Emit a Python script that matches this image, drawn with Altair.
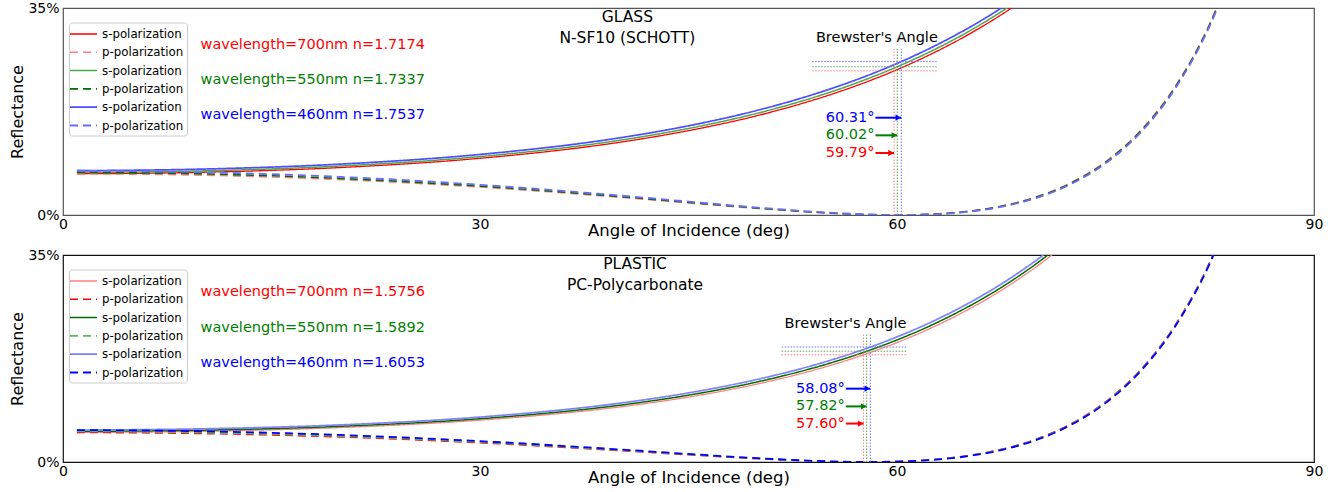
import altair as alt
import pandas as pd

FONT = "DejaVu Sans"

# ---------------- data ----------------
ANGLES = [1, 10, 20, 30, 40, 45, 50, 55, 57.5, 60, 62.5, 65, 67.5, 70,
          72.5, 75, 77.5, 80, 82.5, 85]

# GLASS  N-SF10 (SCHOTT)   reflectance in %
GLASS_S700 = [6.97, 7.22, 8.03, 9.59, 12.28, 14.26, 16.83, 20.19, 22.23, 24.57, 27.26, 30.33, 33.86, 37.90]
GLASS_S550 = [7.20, 7.46, 8.29, 9.88, 12.62, 14.63, 17.23, 20.62, 22.69, 25.05, 27.75, 30.83, 34.37, 38.41]
GLASS_S460 = [7.49, 7.76, 8.61, 10.24, 13.03, 15.08, 17.72, 21.16, 23.24, 25.62, 28.34, 31.44, 34.98, 39.03]
GLASS_P700 = [6.97, 6.72, 5.97, 4.71, 3.00, 2.03, 1.09, 0.32, 0.08, 0.00, 0.15, 0.62, 1.53, 3.07, 5.47, 9.04, 14.26, 21.74, 32.40, 47.55]
GLASS_P550 = [7.20, 6.95, 6.18, 4.89, 3.13, 2.14, 1.17, 0.36, 0.10, 0.00, 0.12, 0.57, 1.47, 2.98, 5.35, 8.90, 14.10, 21.56, 32.21, 47.38]
GLASS_P460 = [7.49, 7.23, 6.44, 5.11, 3.30, 2.27, 1.26, 0.41, 0.13, 0.00, 0.10, 0.52, 1.38, 2.87, 5.21, 8.73, 13.89, 21.34, 31.98, 47.16]

# PLASTIC  PC-Polycarbonate   reflectance in %
PLASTIC_S700 = [4.99, 5.19, 5.83, 7.08, 9.30, 10.98, 13.21, 16.19, 18.04, 20.20, 22.70, 25.62, 29.02, 32.98, 37.60]
PLASTIC_S550 = [5.18, 5.38, 6.04, 7.32, 9.59, 11.30, 13.57, 16.59, 18.46, 20.64, 23.16, 26.10, 29.51, 33.49, 38.12]
PLASTIC_S460 = [5.40, 5.61, 6.28, 7.60, 9.93, 11.68, 13.99, 17.05, 18.95, 21.15, 23.70, 26.66, 30.09, 34.08, 38.72]
PLASTIC_P700 = [4.99, 4.80, 4.22, 3.24, 1.92, 1.21, 0.54, 0.08, 0.00, 0.09, 0.41, 1.05, 2.15, 3.87, 6.44, 10.18, 15.54, 23.13, 33.82, 48.84]
PLASTIC_P550 = [5.18, 4.98, 4.38, 3.37, 2.02, 1.28, 0.59, 0.10, 0.00, 0.07, 0.38, 1.01, 2.09, 3.79, 6.35, 10.08, 15.43, 23.01, 33.70, 48.74]
PLASTIC_P460 = [5.40, 5.19, 4.57, 3.53, 2.13, 1.36, 0.64, 0.12, 0.00, 0.06, 0.34, 0.95, 2.02, 3.70, 6.25, 9.96, 15.30, 22.87, 33.55, 48.61]

GLASS_KEYS = ["Gs700", "Gp700", "Gs550", "Gp550", "Gs460", "Gp460"]
GLASS_COLORS = ["#ff0000", "#ff8080", "#4da64d", "#006b00", "#4d4dff", "#6a6aff"]
PLASTIC_KEYS = ["Ps700", "Pp700", "Ps550", "Pp550", "Ps460", "Pp460"]
PLASTIC_COLORS = ["#ff8080", "#ff0000", "#006b00", "#5cb85c", "#8080ff", "#0000ff"]
DASHES = [[1, 0], [8, 5], [1, 0], [8, 5], [1, 0], [8, 5]]
WIDTHS = [1.3, 1.8, 1.3, 1.8, 1.3, 1.8]

TEXT_COLORS = ["#ff0000", "#008000", "#0000ff"]
LIGHT_COLORS = ["#ff8080", "#55aa55", "#7070ff"]

GLASS_TITLE = ["GLASS", "N-SF10 (SCHOTT)"]
PLASTIC_TITLE = ["PLASTIC", "PC-Polycarbonate"]
TITLE_Y = [33.45, 29.9]

GLASS_WL = ["wavelength=700nm n=1.7174", "wavelength=550nm n=1.7337", "wavelength=460nm n=1.7537"]
PLASTIC_WL = ["wavelength=700nm n=1.5756", "wavelength=550nm n=1.5892", "wavelength=460nm n=1.6053"]
GLASS_WL_Y = [28.8, 22.8, 16.85]
PLASTIC_WL_Y = [28.8, 22.7, 16.7]
WL_X = 9.9

GLASS_BREWSTER = [59.79, 60.02, 60.31]
PLASTIC_BREWSTER = [57.60, 57.82, 58.08]
GLASS_RB = [24.37, 25.06, 25.94]
PLASTIC_RB = [18.13, 18.73, 19.44]
GLASS_ANGLE_TEXT = ["59.79°", "60.02°", "60.31°"]
PLASTIC_ANGLE_TEXT = ["57.60°", "57.82°", "58.08°"]
GLASS_ARROW_Y = [10.48, 13.47, 16.45]
PLASTIC_ARROW_Y = [6.5, 9.4, 12.4]


def curve_frame(prefix, s_lists, p_lists):
    rows = []
    for wl, vals in zip(["700", "550", "460"], s_lists):
        for a, v in zip(ANGLES, vals):
            rows.append({"angle": a, "R": v, "series": prefix + "s" + wl})
    for wl, vals in zip(["700", "550", "460"], p_lists):
        for a, v in zip(ANGLES, vals):
            rows.append({"angle": a, "R": v, "series": prefix + "p" + wl})
    return pd.DataFrame(rows)


XS = alt.Scale(domain=[0, 90], nice=False, zero=False)
YS = alt.Scale(domain=[0, 35], nice=False, zero=False)

X_AXIS = alt.Axis(values=[0, 30, 60, 90], labelFlush=False, ticks=False, domain=False, grid=False,
                  labelFontSize=14, labelPadding=2, labelColor="black", labelFont=FONT,
                  title="Angle of Incidence (deg)", titleFontSize=16.5, titleFontWeight="normal",
                  titleColor="black", titleFont=FONT, titleY=15, titleBaseline="middle")
Y_AXIS = alt.Axis(values=[0, 35], labelExpr="datum.value + '%'", ticks=False, domain=False, grid=False,
                  labelFontSize=14, labelPadding=4, labelColor="black", labelFont=FONT,
                  title="Reflectance", titleFontSize=16, titleFontWeight="normal", titleColor="black",
                  titleFont=FONT, titleX=-46, titleY=103.5, titleAngle=270, titleAlign="center",
                  titleBaseline="middle")


def X(f):
    return alt.X(f, scale=XS, axis=X_AXIS)


def Y(f):
    return alt.Y(f, scale=YS, axis=Y_AXIS)


def legend():
    return alt.Legend(title=None, orient="none", legendX=6, legendY=14.5,
                      symbolType="M-1.8,0H1.8", symbolSize=225, symbolStrokeWidth=1.5,
                      symbolOffset=3, labelOffset=10, rowPadding=2.3, padding=3,
                      fillColor="rgba(255,255,255,0.85)", strokeColor="#cccccc", cornerRadius=3,
                      labelFont=FONT, labelFontSize=11.8, labelColor="black",
                      labelExpr="substring(datum.label, 1, 2) + '-polarization'", symbolLimit=0)


def panel(df, keys, colors, titles, title_x, wl_labels, wl_y, brewster, rb, vtop, hx0, hx1,
          blabel_x, blabel_y, arrow_x0, arrow_y, angle_text, frame):
    lines = alt.Chart(df).mark_line(interpolate="monotone", clip=True).encode(
        x=X("angle:Q"),
        y=Y("R:Q"),
        color=alt.Color("series:N", scale=alt.Scale(domain=keys, range=colors), legend=legend()),
        strokeDash=alt.StrokeDash("series:N", scale=alt.Scale(domain=keys, range=DASHES), legend=legend()),
        strokeWidth=alt.StrokeWidth("series:N", scale=alt.Scale(domain=keys, range=WIDTHS), legend=None),
    )

    vdf = pd.DataFrame({"x": brewster, "y0": [0, 0, 0], "y1": [vtop] * 3, "c": LIGHT_COLORS})
    vrules = alt.Chart(vdf).mark_rule(strokeDash=[1.5, 1.5], strokeWidth=1).encode(
        x=X("x:Q"), y=Y("y0:Q"), y2="y1:Q", stroke=alt.Stroke("c:N", scale=None))

    hdf = pd.DataFrame({"x0": [hx0] * 3, "x1": [hx1] * 3, "y": rb, "c": LIGHT_COLORS})
    hrules = alt.Chart(hdf).mark_rule(strokeDash=[1.5, 1.5], strokeWidth=1).encode(
        x=X("x0:Q"), x2="x1:Q", y=Y("y:Q"), stroke=alt.Stroke("c:N", scale=None))

    adf = pd.DataFrame({"x0": [arrow_x0] * 3, "x1": brewster, "y": arrow_y, "c": TEXT_COLORS, "t": angle_text})
    arrows = alt.Chart(adf).mark_rule(strokeWidth=2).encode(
        x=X("x0:Q"), x2="x1:Q", y=Y("y:Q"), stroke=alt.Stroke("c:N", scale=None))
    heads = alt.Chart(adf).mark_point(shape="triangle-right", filled=True, size=40, xOffset=-3,
                                      opacity=1, strokeWidth=0).encode(
        x=X("x1:Q"), y=Y("y:Q"), fill=alt.Fill("c:N", scale=None))
    atext = alt.Chart(adf).mark_text(align="right", baseline="middle", dx=-1, fontSize=14.5, font=FONT).encode(
        x=X("x0:Q"), y=Y("y:Q"), text="t:N", fill=alt.Fill("c:N", scale=None))

    wdf = pd.DataFrame({"x": [WL_X] * 3, "y": wl_y, "t": wl_labels, "c": TEXT_COLORS})
    wtext = alt.Chart(wdf).mark_text(align="left", baseline="middle", fontSize=14.5, font=FONT).encode(
        x=X("x:Q"), y=Y("y:Q"), text="t:N", fill=alt.Fill("c:N", scale=None))

    tdf = pd.DataFrame({"x": [title_x] * 2, "y": TITLE_Y, "t": titles})
    ttext = alt.Chart(tdf).mark_text(align="center", baseline="middle", fontSize=15.5, font=FONT,
                                     color="black").encode(x=X("x:Q"), y=Y("y:Q"), text="t:N")

    bdf = pd.DataFrame({"x": [blabel_x], "y": [blabel_y], "t": ["Brewster's Angle"]})
    btext = alt.Chart(bdf).mark_text(align="center", baseline="middle", fontSize=14.5, font=FONT,
                                     color="black").encode(x=X("x:Q"), y=Y("y:Q"), text="t:N")

    return alt.layer(lines, vrules, hrules, arrows, heads, atext, wtext, ttext, btext).properties(
        width=1251, height=207,
        view=alt.ViewBackground(stroke=frame, strokeWidth=1.2, fill="white"))


glass_df = curve_frame("G", [GLASS_S700, GLASS_S550, GLASS_S460], [GLASS_P700, GLASS_P550, GLASS_P460])
plastic_df = curve_frame("P", [PLASTIC_S700, PLASTIC_S550, PLASTIC_S460],
                         [PLASTIC_P700, PLASTIC_P550, PLASTIC_P460])

top = panel(glass_df, GLASS_KEYS, GLASS_COLORS, GLASS_TITLE, 40.6, GLASS_WL, GLASS_WL_Y,
            GLASS_BREWSTER, GLASS_RB, 28.1, 53.9, 62.9, 58.55, 29.9, 58.45, GLASS_ARROW_Y,
            GLASS_ANGLE_TEXT, "#555555")
bottom = panel(plastic_df, PLASTIC_KEYS, PLASTIC_COLORS, PLASTIC_TITLE, 41.15, PLASTIC_WL, PLASTIC_WL_Y,
               PLASTIC_BREWSTER, PLASTIC_RB, 21.6, 51.7, 60.7, 56.3, 23.4, 56.32, PLASTIC_ARROW_Y,
               PLASTIC_ANGLE_TEXT, "#111111")

chart = alt.vconcat(top, bottom, spacing=40, bounds="flush").resolve_scale(
    color="independent", strokeDash="independent", strokeWidth="independent"
).properties(
    padding={"left": 8, "top": 0, "right": 5, "bottom": 0},
    background="white",
).configure(font=FONT)

chart.save("out.html", embed_options={"renderer": "svg", "actions": False})
